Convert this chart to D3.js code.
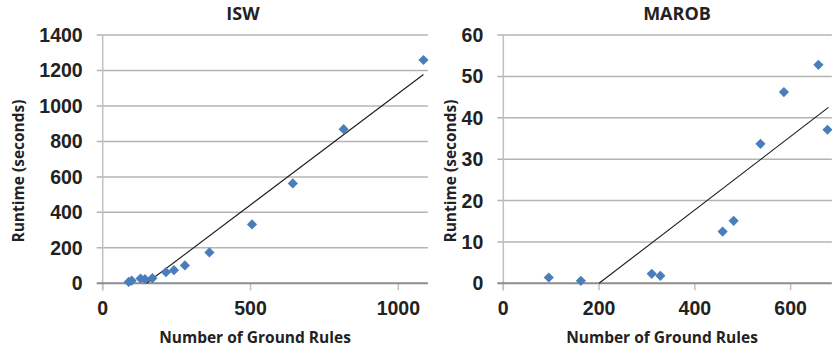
<!DOCTYPE html>
<html>
<head>
<meta charset="utf-8">
<script src="https://cdn.jsdelivr.net/npm/d3@7"></script>
<style>
  body { margin: 0; background: #fff; }
  svg { display: block; }
  .tick-label { font-family: "Liberation Sans", Arial, sans-serif; font-weight: bold; font-size: 19.5px; fill: #222; }
  .title, .axis-title { font-family: "Open Sans", sans-serif; font-weight: bold; fill: #222; }
</style>
</head>
<body>
<svg id="drawing_region"></svg>
<script>
// ISW panel data
const iswRules   = [88, 98, 128, 143, 168, 214, 241, 278, 361, 505, 643, 815, 1085];
const iswRuntime = [8, 15, 27, 23, 29, 63, 74, 101, 174, 332, 563, 869, 1259];
const iswTrend   = [[148, 0], [1085, 1177]];
const iswYTicks  = [0, 200, 400, 600, 800, 1000, 1200, 1400];
const iswXTicks  = [0, 500, 1000];

// MAROB panel data
const marobRules   = [95, 162, 310, 328, 458, 481, 537, 586, 658, 677];
const marobRuntime = [1.4, 0.6, 2.3, 1.8, 12.5, 15.1, 33.7, 46.2, 52.8, 37.1];
const marobTrend   = [[200, 0], [679, 42.5]];
const marobYTicks  = [0, 10, 20, 30, 40, 50, 60];
const marobXTicks  = [0, 200, 400, 600];

const svg = d3.select('#drawing_region')
    .attr('width', 832)
    .attr('height', 352);

class ScatterPanel {
    constructor( config ) {
        this.config = config;
        this.init();
    }

    init() {
        let self = this;
        const c = self.config;
        self.x = d3.scaleLinear().domain(c.xDomain).range([c.left, c.right]);
        self.y = d3.scaleLinear().domain(c.yDomain).range([c.bottom, c.top]);
        self.g = svg.append('g');
    }

    render() {
        let self = this;
        const c = self.config;
        const g = self.g;

        const clipId = 'clip-' + c.name;
        g.append('clipPath').attr('id', clipId)
            .append('rect')
            .attr('x', c.left).attr('y', c.top - 20)
            .attr('width', c.right - c.left).attr('height', c.bottom - c.top + 40);

        // gridlines
        g.selectAll('.grid')
            .data(c.yTicks.filter(d => d !== 0))
            .enter().append('line')
            .attr('x1', c.left - 6).attr('x2', c.right)
            .attr('y1', d => self.y(d)).attr('y2', d => self.y(d))
            .attr('stroke', '#b4b4b4').attr('stroke-width', 1.5);

        // y axis line
        g.append('line')
            .attr('x1', c.left).attr('x2', c.left)
            .attr('y1', c.top).attr('y2', c.bottom + 7)
            .attr('stroke', '#c0c0c0').attr('stroke-width', 1.5);

        // x axis ticks
        g.selectAll('.xtick')
            .data(c.xTicks)
            .enter().append('line')
            .attr('x1', d => self.x(d)).attr('x2', d => self.x(d))
            .attr('y1', c.bottom).attr('y2', c.bottom + 7)
            .attr('stroke', '#c0c0c0').attr('stroke-width', 1.5);

        // x axis (zero line)
        g.append('line')
            .attr('x1', c.left - 6).attr('x2', c.right)
            .attr('y1', self.y(0)).attr('y2', self.y(0))
            .attr('stroke', '#8c8c8c').attr('stroke-width', 2);

        // y tick labels
        g.selectAll('.ylab')
            .data(c.yTicks)
            .enter().append('text')
            .attr('class', 'tick-label')
            .attr('x', c.left - 20)
            .attr('y', d => self.y(d))
            .attr('dy', '0.36em')
            .attr('text-anchor', 'end')
            .text(d => d);

        // x tick labels
        g.selectAll('.xlab')
            .data(c.xTicks)
            .enter().append('text')
            .attr('class', 'tick-label')
            .attr('x', d => self.x(d))
            .attr('y', 315)
            .attr('text-anchor', 'middle')
            .text(d => d);

        // trend line
        g.append('line')
            .attr('clip-path', `url(#${clipId})`)
            .attr('x1', self.x(c.trend[0][0])).attr('y1', self.y(c.trend[0][1]))
            .attr('x2', self.x(c.trend[1][0])).attr('y2', self.y(c.trend[1][1]))
            .attr('stroke', '#1a1a1a').attr('stroke-width', 1.1);

        // markers
        const diamond = d3.symbol().type(d3.symbolSquare).size(52);
        g.selectAll('.pt')
            .data(c.xs.map((d, i) => ({x: d, y: c.ys[i]})))
            .enter().append('path')
            .attr('d', diamond)
            .attr('transform', d => `translate(${self.x(d.x)},${self.y(d.y)}) rotate(45)`)
            .attr('fill', '#4a7ebb');

        // titles
        g.append('text')
            .attr('class', 'title')
            .attr('x', c.titleX).attr('y', 20)
            .attr('text-anchor', 'middle')
            .style('font-size', '18px')
            .text(c.name);

        g.append('text')
            .attr('class', 'axis-title')
            .attr('x', c.xTitleX).attr('y', 343)
            .attr('text-anchor', 'middle')
            .style('font-size', '15.5px')
            .text('Number of Ground Rules');

        g.append('text')
            .attr('class', 'axis-title')
            .attr('transform', `translate(${c.yTitleX},171) rotate(-90)`)
            .attr('text-anchor', 'middle')
            .style('font-size', '15.5px')
            .text('Runtime (seconds)');
    }
}

const isw = new ScatterPanel({
    name: 'ISW', xs: iswRules, ys: iswRuntime, trend: iswTrend,
    xTicks: iswXTicks, yTicks: iswYTicks,
    xDomain: [0, 1100], yDomain: [0, 1400],
    left: 102.7, right: 427.9, top: 35, bottom: 283.3,
    titleX: 243, xTitleX: 255, yTitleX: 24
});
isw.render();

const marob = new ScatterPanel({
    name: 'MAROB', xs: marobRules, ys: marobRuntime, trend: marobTrend,
    xTicks: marobXTicks, yTicks: marobYTicks,
    xDomain: [0, 686], yDomain: [0, 60],
    left: 503.3, right: 831.8, top: 35, bottom: 283.3,
    titleX: 677, xTitleX: 662, yTitleX: 456
});
marob.render();
</script>
</body>
</html>
